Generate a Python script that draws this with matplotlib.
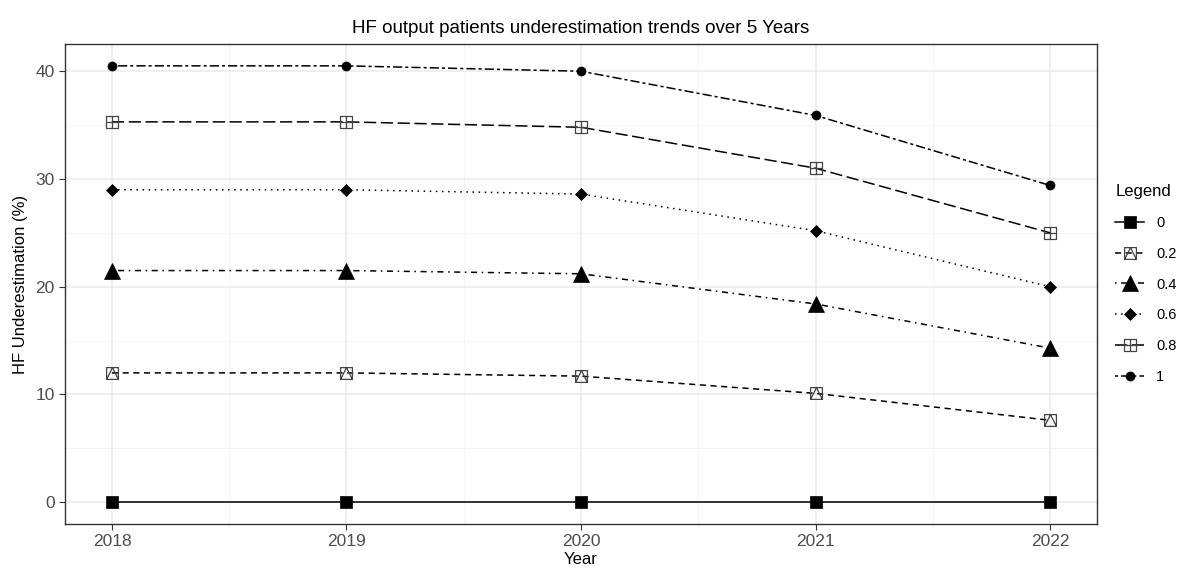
import matplotlib.pyplot as plt
import numpy as np
from matplotlib.path import Path
from matplotlib.ticker import MultipleLocator

plt.rcParams['font.family'] = ['Liberation Sans', 'DejaVu Sans']

# --- data ---
years = [2018, 2019, 2020, 2021, 2022]
levels = ['0', '0.2', '0.4', '0.6', '0.8', '1']
v0  = [0, 0, 0, 0, 0]
v02 = [12.0, 12.0, 11.7, 10.1, 7.6]
v04 = [21.5, 21.5, 21.2, 18.4, 14.3]
v06 = [29.0, 29.0, 28.6, 25.2, 20.0]
v08 = [35.3, 35.3, 34.8, 31.0, 25.0]
v1  = [40.5, 40.5, 40.0, 35.9, 29.4]

# custom ggplot-style composite markers
sq_tri = Path([(-1, -1), (1, -1), (1, 1), (-1, 1), (-1, -1),
               (-1, -1), (0, 1), (1, -1)],
              [Path.MOVETO, Path.LINETO, Path.LINETO, Path.LINETO, Path.CLOSEPOLY,
               Path.MOVETO, Path.LINETO, Path.LINETO])
sq_plus = Path([(-1, -1), (1, -1), (1, 1), (-1, 1), (-1, -1),
                (0, -1), (0, 1), (-1, 0), (1, 0)],
               [Path.MOVETO, Path.LINETO, Path.LINETO, Path.LINETO, Path.CLOSEPOLY,
                Path.MOVETO, Path.LINETO, Path.MOVETO, Path.LINETO])

series = [
    (v0,  '-',                 's',     8.5, 'black', 'black'),
    (v02, (0, (4, 3)),         sq_tri,  8.5, 'none',  '#444444'),
    (v04, (0, (1, 3, 4, 3)),   '^',     11, 'black', 'black'),
    (v06, (0, (1, 3)),         'D',     6, 'black', 'black'),
    (v08, (0, (8, 3)),         sq_plus, 8.5, 'none',  '#444444'),
    (v1,  (0, (2, 2, 6, 2)),   'o',     6.5, 'black', 'black'),
]

fig = plt.figure(figsize=(11.87, 5.72), dpi=100)
ax = fig.add_axes([0.0548, 0.0839, 0.8694, 0.8391])

for (vals, ls, mk, ms, fc, ec), lab in zip(series, levels):
    ax.plot(years, vals, linestyle=ls, color='black', linewidth=1.1,
            marker=mk, markersize=ms, markerfacecolor=fc, markeredgecolor=ec,
            markeredgewidth=0.9 if fc == 'none' else 0.5, label=lab)

ax.set_xlim(2017.8, 2022.2)
ax.set_ylim(-2.025, 42.525)
ax.set_xticks(years)
ax.xaxis.set_minor_locator(MultipleLocator(0.5))
ax.yaxis.set_major_locator(MultipleLocator(10))
ax.yaxis.set_minor_locator(MultipleLocator(5))
ax.grid(which='major', color='#ebebeb', linewidth=1.1)
ax.grid(which='minor', color='#f2f2f2', linewidth=0.6)
ax.set_axisbelow(True)
for s in ax.spines.values():
    s.set_color('#333333')
    s.set_linewidth(1.0)
ax.tick_params(which='major', length=4, color='#333333', labelsize=12.5, labelcolor='#4d4d4d')
ax.tick_params(which='minor', length=0)

ax.set_xlabel('Year', fontsize=12, labelpad=2)
ax.set_ylabel('HF Underestimation (%)', fontsize=12, labelpad=5)
ax.set_title('HF output patients underestimation trends over 5 Years', fontsize=13.5, pad=8)

leg = ax.legend(title='Legend', loc='center left', bbox_to_anchor=(1.005, 0.5),
                frameon=False, fontsize=10.5, title_fontsize=12,
                handlelength=2.0, labelspacing=1.15, borderaxespad=0.5)
leg._legend_box.align = 'left'

fig.savefig('out.png', dpi=100)
